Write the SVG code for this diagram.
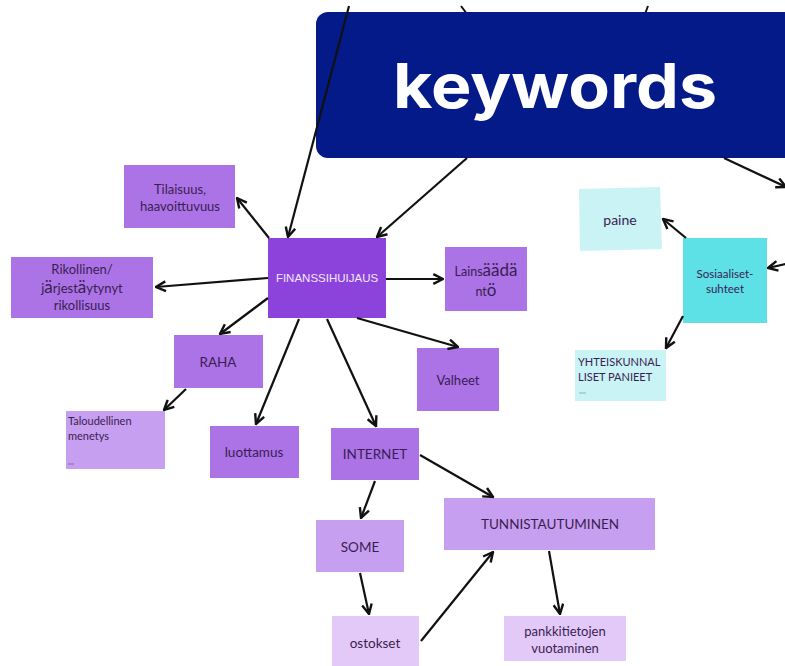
<svg xmlns="http://www.w3.org/2000/svg" width="785" height="666" viewBox="0 0 785 666">
<style>
.t{font-family:Lato,"Noto Sans","Liberation Sans",sans-serif;fill:#3a1d52;text-anchor:middle}
.c{stroke:#111;stroke-width:2.2;fill:none;marker-end:url(#ah)}
.p1{fill:#8c43db}
.p2{fill:#ac73e6}
.p3{fill:#c79ff0}
.p4{fill:#e3c9f7}
.cy1{fill:#5de0e6}
.cy2{fill:#c9f3f5}
</style>
<defs>
<marker id="ah" viewBox="0 0 10 10" refX="9" refY="5" markerWidth="5.5" markerHeight="5.5" orient="auto" markerUnits="strokeWidth">
<path d="M1,1 L9,5 L1,9" fill="none" stroke="#111" stroke-width="2"/>
</marker>
</defs>
<rect width="785" height="666" fill="#fff"/>
<g id="top-fragments">
<line x1="461" y1="6" x2="467" y2="14" stroke="#111" stroke-width="2"/>
<line x1="648" y1="6" x2="645" y2="14" stroke="#111" stroke-width="2"/>
</g>
<g id="keywords">
<rect x="316" y="12" width="480" height="146" rx="12" fill="#031a88"/>
<text x="393" y="108" font-family="Inter,'Open Sans','Liberation Sans',sans-serif" font-weight="700" font-size="62" fill="#fff" textLength="324" lengthAdjust="spacingAndGlyphs">keywords</text>
</g>
<g id="n-fin"><rect class="p1" x="268" y="238" width="118" height="80"/><text class="t" x="327" y="282" font-size="11.5" style="fill:#f3e6ff;font-family:'Liberation Sans',sans-serif">FINANSSIHUIJAUS</text></g>
<g id="n-tilaisuus"><rect class="p2" x="124" y="165" width="111" height="63"/><text class="t" x="180" y="194" font-size="13">Tilaisuus,</text><text class="t" x="180" y="211" font-size="13">haavoittuvuus</text></g>
<g id="n-rikollinen"><rect class="p2" x="11" y="257" width="142" height="61"/><text class="t" x="82" y="274" font-size="13">Rikollinen/</text><text class="t" x="82" y="293" font-size="13">j<tspan font-size="17">ä</tspan>rjest<tspan font-size="17">ä</tspan>ytynyt</text><text class="t" x="82" y="310" font-size="13">rikollisuus</text></g>
<g id="n-lains"><rect class="p2" x="445" y="247" width="82" height="64"/><text class="t" x="486" y="276" font-size="12.5">Lains<tspan font-size="17">äädä</tspan></text><text class="t" x="486" y="296" font-size="12.5">nt<tspan font-size="17">ö</tspan></text></g>
<g id="n-valheet"><rect class="p2" x="417" y="348" width="82" height="63"/><text class="t" x="458" y="385" font-size="13">Valheet</text></g>
<g id="n-raha"><rect class="p2" x="174" y="335" width="89" height="53"/><text class="t" x="218" y="367" font-size="13.5">RAHA</text></g>
<g id="n-talous"><rect class="p3" x="66" y="411" width="99" height="58"/><text class="t" x="68" y="425" font-size="11" style="text-anchor:start">Taloudellinen</text><text class="t" x="68" y="440" font-size="11" style="text-anchor:start">menetys</text><line x1="68" y1="464" x2="74" y2="464" stroke="#6a4a80" stroke-width="0.6"/></g>
<g id="n-luottamus"><rect class="p2" x="210" y="426" width="89" height="52"/><text class="t" x="254" y="457" font-size="13.5">luottamus</text></g>
<g id="n-internet"><rect class="p2" x="331" y="428" width="88" height="52"/><text class="t" x="375" y="459" font-size="13.5">INTERNET</text></g>
<g id="n-some"><rect class="p3" x="316" y="520" width="88" height="52"/><text class="t" x="360" y="552" font-size="13.5">SOME</text></g>
<g id="n-tunn"><rect class="p3" x="444" y="498" width="211" height="52"/><text class="t" x="550" y="529" font-size="13.5">TUNNISTAUTUMINEN</text></g>
<g id="n-ostokset"><rect class="p4" x="332" y="616" width="87" height="52"/><text class="t" x="375" y="648" font-size="13.5">ostokset</text></g>
<g id="n-pankki"><rect class="p4" x="504" y="616" width="122" height="45"/><text class="t" x="565" y="636" font-size="13">pankkitietojen</text><text class="t" x="565" y="653" font-size="13">vuotaminen</text></g>
<g id="n-paine"><polygon class="cy2" points="579,189 660,187 662,249 580,251"/><text class="t" x="620" y="225" font-size="14">paine</text></g>
<g id="n-sos"><rect class="cy1" x="683" y="238" width="84" height="85"/><text class="t" x="725" y="278" font-size="11.5">Sosiaaliset-</text><text class="t" x="725" y="293" font-size="11.5">suhteet</text></g>
<g id="n-yht"><rect class="cy2" x="575" y="350" width="91" height="51"/><text class="t" x="578" y="366" font-size="11" style="text-anchor:start">YHTEISKUNNAL</text><text class="t" x="578" y="381" font-size="11" style="text-anchor:start">LISET PANIEET</text><line x1="579" y1="393" x2="586" y2="393" stroke="#6a8a90" stroke-width="0.6"/></g>
<g id="connectors">
<line class="c" x1="349" y1="6" x2="288" y2="237"/>
<line class="c" x1="467" y1="158" x2="377" y2="237"/>
<line class="c" x1="724" y1="158" x2="786" y2="187"/>
<line class="c" x1="269" y1="238" x2="237" y2="198"/>
<line class="c" x1="268" y1="278" x2="156" y2="287"/>
<line class="c" x1="386" y1="279" x2="443" y2="279"/>
<line class="c" x1="357" y1="318" x2="458" y2="347"/>
<line class="c" x1="268" y1="298" x2="220" y2="334"/>
<line class="c" x1="186" y1="389" x2="164" y2="410"/>
<line class="c" x1="299" y1="319" x2="256" y2="424"/>
<line class="c" x1="327" y1="319" x2="376" y2="426"/>
<line class="c" x1="375" y1="481" x2="361" y2="518"/>
<line class="c" x1="420" y1="455" x2="493" y2="497"/>
<line class="c" x1="360" y1="573" x2="369" y2="614"/>
<line class="c" x1="421" y1="641" x2="493" y2="552"/>
<line class="c" x1="549" y1="551" x2="560" y2="614"/>
<line class="c" x1="686" y1="238" x2="663" y2="219"/>
<line class="c" x1="786" y1="264" x2="768" y2="268"/>
<line class="c" x1="683" y1="316" x2="666" y2="348"/>
</g>
</svg>
